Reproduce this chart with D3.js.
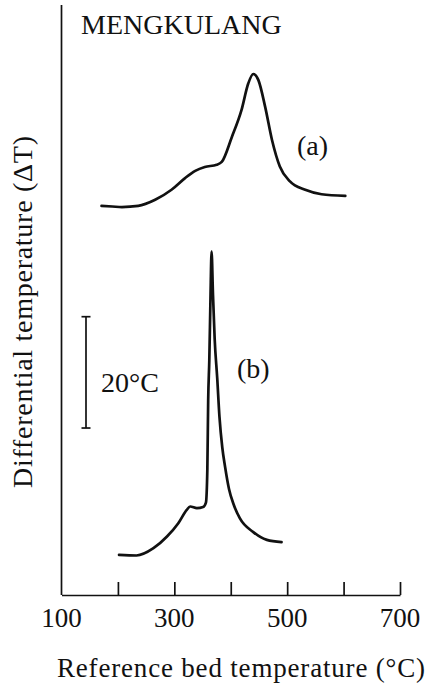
<!DOCTYPE html>
<html>
<head>
<meta charset="utf-8">
<script src="https://cdn.jsdelivr.net/npm/d3@7"></script>
<style>
  body { margin: 0; background: #fff; }
  text { font-family: "Liberation Serif", "Times New Roman", serif; fill: #111; }
  .curve { fill: none; stroke: #111; stroke-width: 2.7px; stroke-linejoin: round; stroke-linecap: round; }
  .axis path, .axis line { stroke: #111; stroke-width: 1.7px; }
</style>
</head>
<body>
<div id="chart"></div>
<script>
// reference bed temperature (°C) vs differential temperature (°C, arbitrary offset)
let curveATemp = [171, 190, 207, 236, 266, 295, 319, 337, 354, 375, 384, 402, 419, 431, 440, 449, 461, 473, 487, 505, 532, 561, 603];
let curveADT   = [69.9, 69.8, 69.7, 69.9, 71.0, 72.8, 74.9, 76.2, 76.9, 77.3, 77.8, 82.3, 87.1, 91.9, 93.6, 92.5, 87.7, 81.8, 77.0, 74.3, 72.8, 72.0, 71.7];

let curveBTemp = [202, 233, 263, 287, 307, 322, 328, 340, 351, 356, 358.5, 360, 362, 364, 366, 368.5, 371.5, 376, 380, 385, 390, 397, 405, 416, 440, 464, 490];
let curveBDT   = [7.2, 7.1, 8.4, 10.5, 12.9, 15.3, 15.9, 15.6, 15.8, 16.6, 22.5, 35.0, 42.2, 53.0, 61.7, 54.0, 46.0, 39.0, 32.0, 26.5, 23.0, 19.0, 16.3, 13.8, 11.3, 9.9, 9.5];

let tickValues = [200, 300, 400, 500, 600, 700];
let tickLabels = [100, 300, 500, 700];

// scale bar: 20 °C
let scaleBarFrom = 30;
let scaleBarTo = 50;

// set dimensions of graphic
let width = 429;
let height = 684;

let x = d3.scaleLinear().domain([100, 700]).range([61.5, 400]);
let y = d3.scaleLinear().domain([0, 106]).range([595, 5]);

let svg = d3.select("#chart").append("svg")
  .attr("width", width)
  .attr("height", height);

// y axis: plain line, no ticks
svg.append("line")
  .attr("x1", x(100)).attr("x2", x(100))
  .attr("y1", y(106)).attr("y2", y(0))
  .style("stroke", "#111")
  .style("stroke-width", "1.7px");

// x axis ticks point up into the plot
svg.append("g")
  .attr("class", "axis")
  .attr("transform", "translate(0," + y(0) + ")")
  .call(d3.axisBottom(x).tickValues(tickValues).tickSizeInner(-13).tickSizeOuter(0).tickFormat(""));

// tick labels sit on their own
svg.append("g")
  .attr("transform", "translate(0," + y(0) + ")")
  .selectAll("text")
  .data(tickLabels)
  .enter()
  .append("text")
  .attr("x", function(d) { return x(d); })
  .attr("y", 32)
  .attr("text-anchor", "middle")
  .style("font-size", "27px")
  .text(function(d) { return d; });

let line = d3.line()
  .x(function(d) { return x(d[0]); })
  .y(function(d) { return y(d[1]); })
  .curve(d3.curveMonotoneX);

svg.append("path")
  .datum(d3.zip(curveATemp, curveADT))
  .attr("class", "curve")
  .attr("d", line);

svg.append("path")
  .datum(d3.zip(curveBTemp, curveBDT))
  .attr("class", "curve")
  .attr("d", line);

// 20°C scale bar
let barX = 86;
let bar = svg.append("g").style("stroke", "#111").style("stroke-width", "1.7px");
bar.append("line").attr("x1", barX).attr("x2", barX).attr("y1", y(scaleBarTo)).attr("y2", y(scaleBarFrom));
bar.append("line").attr("x1", barX - 4.5).attr("x2", barX + 4.5).attr("y1", y(scaleBarTo)).attr("y2", y(scaleBarTo));
bar.append("line").attr("x1", barX - 4.5).attr("x2", barX + 4.5).attr("y1", y(scaleBarFrom)).attr("y2", y(scaleBarFrom));

svg.append("text")
  .attr("x", 101)
  .attr("y", 392)
  .style("font-size", "28px")
  .text("20°C");

// labels
svg.append("text")
  .attr("x", 81)
  .attr("y", 34)
  .style("font-size", "28px")
  .text("MENGKULANG");

svg.append("text")
  .attr("x", 297)
  .attr("y", 155)
  .style("font-size", "28px")
  .text("(a)");

svg.append("text")
  .attr("x", 237)
  .attr("y", 378)
  .style("font-size", "28px")
  .text("(b)");

svg.append("text")
  .attr("x", 241)
  .attr("y", 677)
  .attr("text-anchor", "middle")
  .attr("textLength", 368)
  .attr("lengthAdjust", "spacing")
  .style("font-size", "27px")
  .text("Reference bed temperature (°C)");

svg.append("text")
  .attr("transform", "translate(32,312) rotate(-90)")
  .attr("text-anchor", "middle")
  .attr("textLength", 352)
  .attr("lengthAdjust", "spacing")
  .style("font-size", "28px")
  .text("Differential temperature (ΔT)");
</script>
</body>
</html>
